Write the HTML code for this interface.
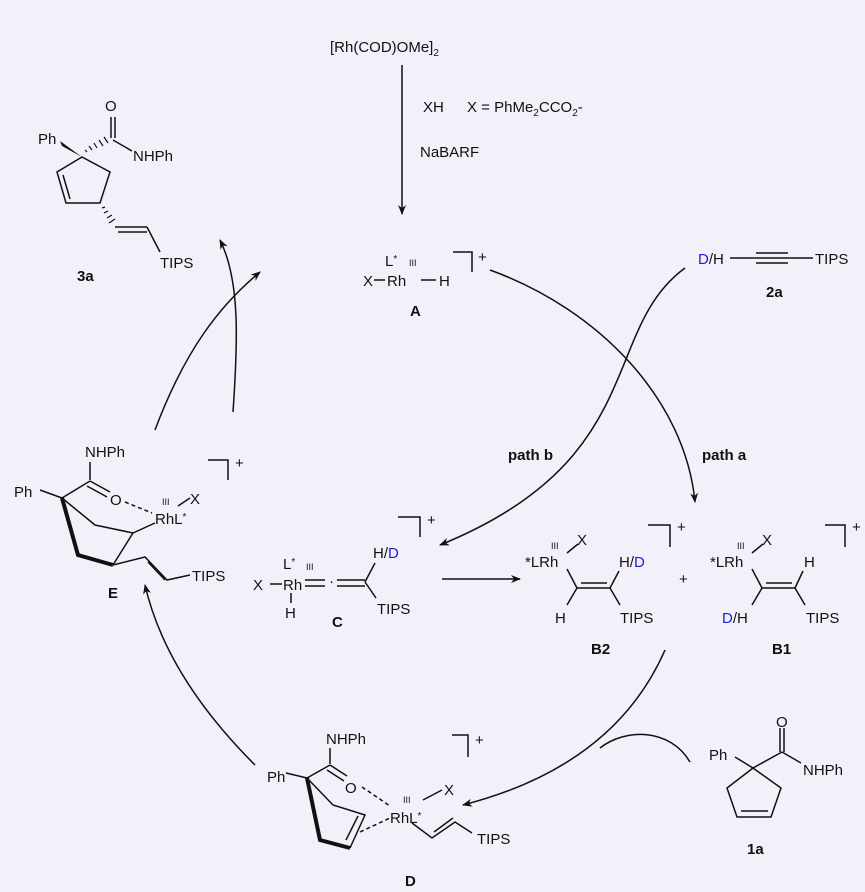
<!DOCTYPE html>
<html><head><meta charset="utf-8"><style>
html,body{margin:0;padding:0;background:#f4f0fa}
svg{display:block}
text{font-family:"Liberation Sans",sans-serif;font-size:15px;fill:#111}
.b{font-weight:bold}
.s{font-size:9px}
.bl{fill:#1a1ae6}
</style></head><body>
<svg width="865" height="892" viewBox="0 0 865 892" xmlns="http://www.w3.org/2000/svg">
<defs>
<marker id="ah" viewBox="0 0 10 10" refX="9" refY="5" markerWidth="10" markerHeight="10" orient="auto" markerUnits="userSpaceOnUse">
<path d="M0,1 L10,5 L0,9 L3,5 z" fill="#111"/></marker>
</defs>
<rect width="865" height="892" fill="#f4f0fa"/>
<g stroke="#111" stroke-width="1.5" fill="none">
<line x1="402" y1="65" x2="402" y2="214" marker-end="url(#ah)"/>
<path d="M155,430 C185,350 220,305 260,272" marker-end="url(#ah)"/>
<path d="M233,412 C238,340 240,280 220,240" marker-end="url(#ah)"/>
<path d="M490,270 C600,310 685,400 695,502" marker-end="url(#ah)"/>
<path d="M685,268 C600,330 650,460 440,545" marker-end="url(#ah)"/>
<line x1="442" y1="579" x2="520" y2="579" marker-end="url(#ah)"/>
<path d="M665,650 C630,730 560,780 463,805" marker-end="url(#ah)"/>
<path d="M690,762 C670,728 625,728 600,748"/>
<path d="M255,765 C200,710 160,650 145,585" marker-end="url(#ah)"/>
<!-- 3a -->
<line x1="111" y1="117" x2="111" y2="138"/><line x1="115" y1="117" x2="115" y2="138"/>
<line x1="113" y1="140" x2="132" y2="151"/>
<path d="M82,157 L57,172 L66,203 L100,203 L110,172 Z"/>
<line x1="63" y1="175" x2="70" y2="199"/>
<line x1="115" y1="227" x2="147" y2="227"/><line x1="118" y1="232" x2="147" y2="232"/>
<line x1="147" y1="227" x2="160" y2="252"/>
<!-- A -->
<line x1="374" y1="280" x2="385" y2="280"/><line x1="421" y1="280" x2="436" y2="280"/>
<polyline points="453,252 472,252 472,272"/>
<!-- 2a -->
<line x1="730" y1="258" x2="756" y2="258"/>
<line x1="756" y1="253" x2="788" y2="253"/><line x1="756" y1="258" x2="788" y2="258"/><line x1="756" y1="263" x2="788" y2="263"/>
<line x1="788" y1="258" x2="813" y2="258"/>
<!-- E -->
<line x1="90" y1="462" x2="90" y2="480"/>
<line x1="40" y1="490" x2="62" y2="498"/>
<line x1="62" y1="498" x2="90" y2="481"/>
<line x1="90" y1="481" x2="110" y2="492"/><line x1="87" y1="486" x2="107" y2="497"/>
<line x1="125" y1="502" x2="152" y2="513" stroke-dasharray="4,3"/>
<line x1="178" y1="506" x2="190" y2="498"/>
<path d="M62,498 L95,525 L133,533 L155,523"/>
<line x1="133" y1="533" x2="113" y2="565"/>
<path d="M62,498 L78,555 L113,565" stroke-width="4"/>
<path d="M113,565 L145,557 L167,580 L190,575"/>
<line x1="148" y1="562" x2="165" y2="580"/>
<polyline points="208,460 228,460 228,480"/>
<!-- C -->
<line x1="270" y1="584" x2="282" y2="584"/>
<line x1="291" y1="593" x2="291" y2="603"/>
<line x1="305" y1="580" x2="325" y2="580"/><line x1="305" y1="586" x2="325" y2="586"/>
<line x1="337" y1="580" x2="365" y2="580"/><line x1="337" y1="586" x2="365" y2="586"/>
<line x1="365" y1="582" x2="375" y2="563"/><line x1="365" y1="582" x2="376" y2="598"/>
<polyline points="398,517 420,517 420,537"/>
<!-- B2 -->
<line x1="567" y1="553" x2="578" y2="544"/>
<line x1="567" y1="569" x2="577" y2="588"/>
<line x1="577" y1="588" x2="610" y2="588"/><line x1="581" y1="583" x2="607" y2="583"/>
<line x1="577" y1="588" x2="567" y2="605"/>
<line x1="610" y1="588" x2="619" y2="571"/><line x1="610" y1="588" x2="620" y2="605"/>
<polyline points="648,525 670,525 670,547"/>
<!-- B1 -->
<line x1="752" y1="553" x2="763" y2="544"/>
<line x1="752" y1="569" x2="762" y2="588"/>
<line x1="762" y1="588" x2="795" y2="588"/><line x1="766" y1="583" x2="792" y2="583"/>
<line x1="762" y1="588" x2="752" y2="605"/>
<line x1="795" y1="588" x2="803" y2="571"/><line x1="795" y1="588" x2="805" y2="605"/>
<polyline points="825,525 845,525 845,547"/>
<!-- D -->
<line x1="330" y1="748" x2="330" y2="764"/>
<line x1="286" y1="773" x2="307" y2="778"/>
<line x1="307" y1="778" x2="330" y2="765"/>
<line x1="330" y1="765" x2="347" y2="776"/><line x1="327" y1="770" x2="344" y2="781"/>
<line x1="362" y1="787" x2="390" y2="806" stroke-dasharray="4,3"/>
<line x1="423" y1="800" x2="442" y2="790"/>
<path d="M307,778 L333,805 L365,815 L350,848"/>
<path d="M307,778 L320,840 L350,848" stroke-width="4"/>
<line x1="358" y1="816" x2="346" y2="840"/>
<line x1="360" y1="832" x2="390" y2="818" stroke-dasharray="4,3"/>
<path d="M412,823 L432,838 L455,822 L472,833"/>
<line x1="434" y1="832" x2="453" y2="818"/>
<polyline points="452,735 468,735 468,757"/>
<!-- 1a -->
<line x1="780" y1="728" x2="780" y2="752"/><line x1="784" y1="728" x2="784" y2="752"/>
<line x1="782" y1="752" x2="801" y2="763"/>
<line x1="735" y1="757" x2="753" y2="768"/>
<line x1="753" y1="768" x2="782" y2="752"/>
<path d="M753,768 L727,788 L737,817 L771,817 L781,788 Z"/>
<line x1="741" y1="811" x2="768" y2="811"/>
</g>
<text x="330" y="52">[Rh(COD)OMe]<tspan font-size="10" dy="4">2</tspan></text>
<text x="423" y="112">XH</text>
<text x="467" y="112">X = PhMe<tspan font-size="10" dy="4">2</tspan><tspan dy="-4">CCO</tspan><tspan font-size="10" dy="4">2</tspan><tspan dy="-4">-</tspan></text>
<text x="420" y="157">NaBARF</text>
<text x="105" y="111">O</text>
<text x="38" y="144">Ph</text>
<polygon points="60,141 82,157 62,146" fill="#111"/>
<g stroke="#111" stroke-width="1.2">
<line x1="87" y1="152" x2="85" y2="150"/><line x1="92" y1="150" x2="89" y2="146"/><line x1="97" y1="148" x2="94" y2="143"/><line x1="103" y1="146" x2="99" y2="140"/><line x1="108" y1="143" x2="104" y2="137"/>
<line x1="102" y1="208" x2="105" y2="207"/><line x1="104" y1="213" x2="108" y2="211"/><line x1="107" y1="218" x2="112" y2="215"/><line x1="109" y1="223" x2="115" y2="219"/>
</g>
<text x="133" y="161">NHPh</text>
<text x="160" y="268">TIPS</text>
<text x="77" y="281" class="b">3a</text>
<text x="385" y="266">L<tspan font-size="10" dy="-4">*</tspan></text>
<text x="409" y="266" class="s">III</text>
<text x="363" y="286">X</text>
<text x="387" y="286">Rh</text>
<text x="439" y="286">H</text>
<text x="478" y="262" font-size="12">+</text>
<text x="410" y="316" class="b">A</text>
<text x="698" y="264"><tspan class="bl">D</tspan>/H</text>
<text x="815" y="264">TIPS</text>
<text x="766" y="297" class="b">2a</text>
<text x="508" y="460" class="b" font-size="14">path b</text>
<text x="702" y="460" class="b" font-size="14">path a</text>
<text x="85" y="457">NHPh</text>
<text x="14" y="497">Ph</text>
<text x="110" y="505">O</text>
<text x="162" y="505" class="s">III</text>
<text x="190" y="504">X</text>
<text x="155" y="524">RhL<tspan font-size="10" dy="-4">*</tspan></text>
<text x="192" y="581">TIPS</text>
<text x="108" y="598" class="b">E</text>
<text x="235" y="468" font-size="12">+</text>
<text x="253" y="590">X</text>
<text x="283" y="590">Rh</text>
<text x="283" y="569">L<tspan font-size="10" dy="-4">*</tspan></text>
<text x="306" y="570" class="s">III</text>
<text x="329" y="586" font-size="12">·</text>
<text x="285" y="618">H</text>
<text x="373" y="558">H/<tspan class="bl">D</tspan></text>
<text x="377" y="614">TIPS</text>
<text x="332" y="627" class="b">C</text>
<text x="427" y="525" font-size="12">+</text>
<text x="525" y="567">*LRh</text>
<text x="551" y="549" class="s">III</text>
<text x="577" y="545">X</text>
<text x="619" y="567">H/<tspan class="bl">D</tspan></text>
<text x="555" y="623">H</text>
<text x="620" y="623">TIPS</text>
<text x="591" y="654" class="b">B2</text>
<text x="677" y="532" font-size="12">+</text>
<text x="679" y="584" font-size="14">+</text>
<text x="710" y="567">*LRh</text>
<text x="737" y="549" class="s">III</text>
<text x="762" y="545">X</text>
<text x="804" y="567">H</text>
<text x="722" y="623"><tspan class="bl">D</tspan>/H</text>
<text x="806" y="623">TIPS</text>
<text x="772" y="654" class="b">B1</text>
<text x="852" y="532" font-size="12">+</text>
<text x="326" y="744">NHPh</text>
<text x="267" y="782">Ph</text>
<text x="345" y="793">O</text>
<text x="403" y="803" class="s">III</text>
<text x="444" y="795">X</text>
<text x="390" y="823">RhL<tspan font-size="10" dy="-4">*</tspan></text>
<text x="477" y="844">TIPS</text>
<text x="405" y="886" class="b">D</text>
<text x="475" y="745" font-size="12">+</text>
<text x="776" y="727">O</text>
<text x="709" y="760">Ph</text>
<text x="803" y="775">NHPh</text>
<text x="747" y="854" class="b">1a</text>
</svg>
</body></html>
